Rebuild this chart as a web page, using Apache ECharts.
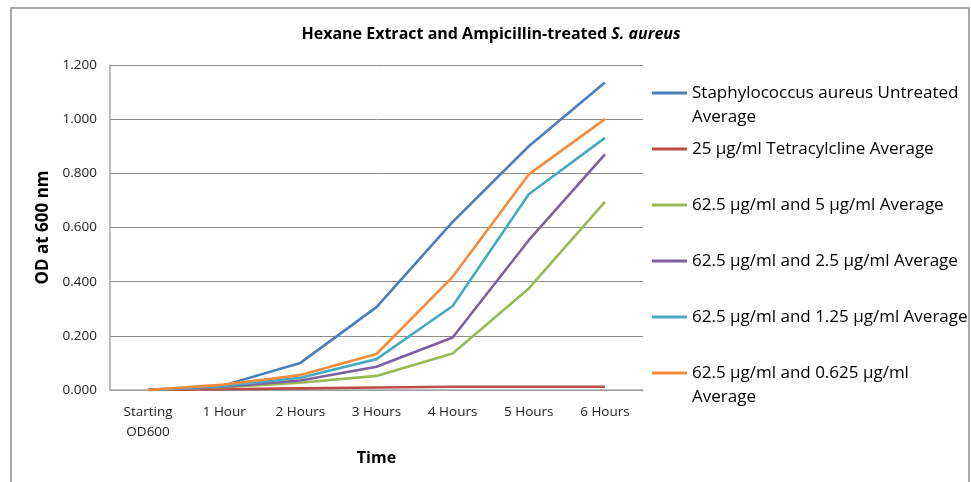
<!DOCTYPE html>
<html>
<head>
    <meta charset="utf-8">
    <title>Hexane Extract and Ampicillin-treated S. aureus</title>
    <style>
        html, body { margin: 0; padding: 0; background: #fff; }
        #main { width: 971px; height: 482px; }
    </style>
    <script src="https://cdn.jsdelivr.net/npm/echarts@6.0.0/dist/echarts.min.js"></script>
</head>
<body>
<div id="main"></div>
<script>
    // x categories
    var timePoints = ['Starting\nOD600', '1 Hour', '2 Hours', '3 Hours', '4 Hours', '5 Hours', '6 Hours']

    // OD600 averages
    var untreated    = [0.000, 0.018, 0.100, 0.306, 0.621, 0.900, 1.135]
    var tetracycline = [0.000, 0.003, 0.006, 0.009, 0.012, 0.012, 0.012]
    var mix5         = [0.000, 0.010, 0.027, 0.052, 0.135, 0.375, 0.695]
    var mix25        = [0.000, 0.012, 0.035, 0.086, 0.194, 0.553, 0.870]
    var mix125       = [0.000, 0.015, 0.045, 0.114, 0.310, 0.723, 0.931]
    var mix0625      = [0.000, 0.020, 0.055, 0.133, 0.418, 0.796, 1.000]

    var seriesNames = [
        'Staphylococcus aureus Untreated Average',
        '25 µg/ml Tetracylcline Average',
        '62.5 µg/ml and 5 µg/ml Average',
        '62.5 µg/ml and 2.5 µg/ml Average',
        '62.5 µg/ml and 1.25 µg/ml Average',
        '62.5 µg/ml and 0.625 µg/ml Average'
    ]
    var legendLabels = [
        'Staphylococcus aureus Untreated\nAverage',
        '25 µg/ml Tetracylcline Average',
        '62.5 µg/ml and 5 µg/ml Average',
        '62.5 µg/ml and 2.5 µg/ml Average',
        '62.5 µg/ml and 1.25 µg/ml Average',
        '62.5 µg/ml and 0.625 µg/ml\nAverage'
    ]
    var seriesData = [untreated, tetracycline, mix5, mix25, mix125, mix0625]
    var colors = ['#4A7EBB', '#BE4B48', '#98B954', '#7D60A0', '#46AAC5', '#F38B3A']

    var font = '"Open Sans", "Liberation Sans", sans-serif'

    var myChart = echarts.init(document.getElementById('main'))

    // one legend block per entry so the spacing follows the original;
    // wrapped labels get an empty first line so line one sits on the icon
    var legendCenters = [93, 149, 205, 261, 317, 373]
    var legends = seriesNames.map(function (name, i) {
        var twoLines = legendLabels[i].indexOf('\n') > -1
        return {
            data: [name],
            orient: 'vertical',
            left: 652,
            top: twoLines ? legendCenters[i] - 36 : legendCenters[i] - 12,
            icon: 'rect',
            itemWidth: 35,
            itemHeight: 3,
            itemGap: 0,
            padding: 0,
            selectedMode: false,
            formatter: function () { return twoLines ? ' \n' + legendLabels[i] : legendLabels[i] },
            textStyle: {
                fontFamily: font,
                fontSize: 17,
                color: '#000',
                lineHeight: 24
            }
        }
    })

    myChart.setOption({
        animation: false,
        color: colors,
        title: {
            text: 'Hexane Extract and Ampicillin-treated {i|S. aureus}',
            left: 486,
            textAlign: 'center',
            top: 21,
            textStyle: {
                fontFamily: font,
                fontSize: 16,
                fontWeight: 'bold',
                color: '#000',
                rich: {
                    i: { fontFamily: font, fontSize: 16, fontWeight: 'bold', fontStyle: 'italic', color: '#000' }
                }
            }
        },
        legend: legends,
        grid: {
            left: 110,
            right: 328,
            top: 65,
            bottom: 92,
            containLabel: false
        },
        xAxis: {
            type: 'category',
            data: timePoints,
            boundaryGap: true,
            name: 'Time',
            nameLocation: 'middle',
            nameGap: 60,
            nameTextStyle: { fontFamily: font, fontSize: 16, fontWeight: 'bold', color: '#000' },
            axisLine: { lineStyle: { color: '#A6A6A6', width: 1.5 } },
            axisTick: { show: false },
            axisLabel: {
                fontFamily: font,
                fontSize: 13.5,
                color: '#222',
                lineHeight: 20,
                margin: 12,
                interval: 0
            }
        },
        yAxis: {
            type: 'value',
            min: 0,
            max: 1.2,
            interval: 0.2,
            name: 'OD at 600 nm',
            nameLocation: 'middle',
            nameGap: 54,
            nameTextStyle: { fontFamily: font, fontSize: 17, fontWeight: 'bold', color: '#000' },
            axisLine: { show: true, lineStyle: { color: '#A6A6A6', width: 1.5 } },
            axisTick: { show: false },
            axisLabel: {
                fontFamily: font,
                fontSize: 13.5,
                color: '#222',
                margin: 13,
                formatter: function (v) { return v.toFixed(3) }
            },
            splitLine: { lineStyle: { color: '#8C8C8C', width: 1 } }
        },
        graphic: [{
            type: 'rect',
            shape: { x: 11, y: 8, width: 958, height: 490 },
            style: { fill: 'none', stroke: '#8C8C8C', lineWidth: 1.5 },
            silent: true
        }],
        series: seriesNames.map(function (name, i) {
            return {
                name: name,
                type: 'line',
                data: seriesData[i],
                symbol: 'none',
                lineStyle: { width: 2.6, color: colors[i] },
                itemStyle: { color: colors[i] }
            }
        })
    })
</script>
</body>
</html>
